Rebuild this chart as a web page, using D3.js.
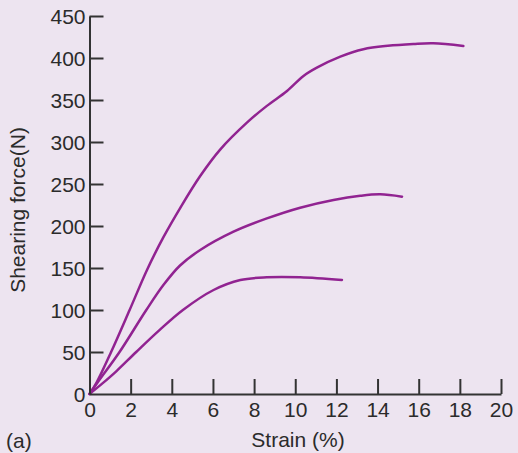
<!DOCTYPE html>
<html><head><meta charset="utf-8">
<script src="https://cdn.jsdelivr.net/npm/d3@7"></script>
<style>
html,body{margin:0;padding:0;background:#ede4f0;}
svg{display:block;}
text{font-family:"Liberation Sans",Arial,Helvetica,sans-serif;fill:#2b2b2b;}
</style></head>
<body>
<svg id="c" width="518" height="453"></svg>
<script>
// Data (strain %, shearing force N)
const upperStrain = [0, 0.35, 1.05, 1.95, 2.8, 3.6, 4.42, 5.38, 6.35, 7.65, 8.62, 9.6, 10.4, 11.05, 12.19, 13.31, 14.5, 15.74, 16.71, 18.17];
const upperForce  = [0, 14, 50, 100, 148, 187, 222, 259.5, 291, 323, 343, 360.7, 378.6, 388.5, 401.6, 410.4, 414.5, 416.7, 417.5, 414.3];
const middleStrain = [0, 0.4, 1.46, 2.76, 3.6, 4.4, 5.38, 7.0, 8.62, 10.24, 11.86, 13.16, 14.13, 15.19];
const middleForce  = [0, 14, 50, 100, 130, 153, 171.4, 193.2, 209, 221.8, 231, 236, 237.7, 234.9];
const lowerStrain = [0, 0.6, 1.3, 2.27, 3.4, 4.54, 6.03, 7.33, 8.62, 10.24, 12.27];
const lowerForce  = [0, 12, 27, 50, 76, 100, 123.8, 135.7, 138.9, 138.9, 135.7];
const xTicks = [0, 2, 4, 6, 8, 10, 12, 14, 16, 18, 20];
const yTicks = [0, 50, 100, 150, 200, 250, 300, 350, 400, 450];
const xLabel = "Strain (%)";
const yLabel = "Shearing force(N)";
const panelLabel = "(a)";

const svg = d3.select("#c");
const x = d3.scaleLinear().domain([0, 20]).range([89.5, 501]);
const y = d3.scaleLinear().domain([0, 450]).range([394, 16]);
const axisColor = "#333";
const lineColor = "#912391";
const fs = 21;

// series
const series = [[upperStrain, upperForce], [middleStrain, middleForce], [lowerStrain, lowerForce]];
const line = d3.line().x(d => x(d[0])).y(d => y(d[1])).curve(d3.curveCatmullRom.alpha(0.5));
series.forEach(([xs, ys]) => {
  svg.append("path").datum(xs.map((v, i) => [v, ys[i]]))
    .attr("d", line).attr("fill", "none").attr("stroke", lineColor)
    .attr("stroke-width", 2.5).attr("stroke-linecap", "round").attr("stroke-linejoin", "round");
});

// x axis
const xa = svg.append("g").attr("transform", `translate(0,${y(0)})`)
  .call(d3.axisBottom(x).tickValues(xTicks).tickSize(-15).tickSizeOuter(0).tickFormat(d3.format("d")));
// y axis
const ya = svg.append("g").attr("transform", `translate(${x(0)},0)`)
  .call(d3.axisLeft(y).tickValues(yTicks).tickSize(-14).tickSizeOuter(0).tickPadding(4).tickFormat(d3.format("d")));
[xa, ya].forEach(a => {
  a.select(".domain").attr("stroke", axisColor).attr("stroke-width", 2);
  a.selectAll(".tick line").attr("stroke", axisColor).attr("stroke-width", 2);
  a.selectAll(".tick text").attr("font-size", fs).attr("fill", "#2b2b2b")
    .style("font-family", "'Liberation Sans',Arial,Helvetica,sans-serif");
});
xa.selectAll(".tick text").attr("dy", null).attr("y", 23);
ya.selectAll(".tick text").attr("dy", "0.35em").attr("x", -4);
xa.selectAll(".tick").filter(d => d === 0).select("line").remove();
ya.selectAll(".tick").filter(d => d === 0).select("line").remove();

svg.append("text").attr("x", 298).attr("y", 447).attr("text-anchor", "middle")
  .attr("font-size", fs).text(xLabel);
svg.append("text").attr("transform", "translate(25,210) rotate(-90)").attr("text-anchor", "middle")
  .attr("font-size", fs).text(yLabel);
svg.append("text").attr("x", 6).attr("y", 448).attr("font-size", fs).text(panelLabel);
</script>
</body></html>
